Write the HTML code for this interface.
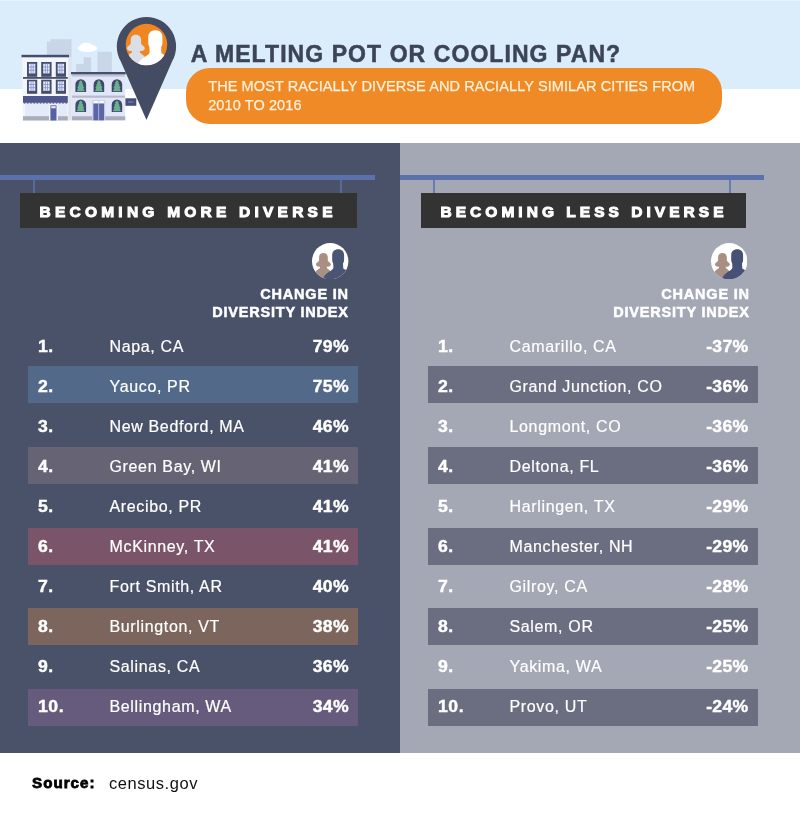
<!DOCTYPE html>
<html><head><meta charset="utf-8"><title>A Melting Pot or Cooling Pan?</title>
<style>
html,body{margin:0;padding:0;background:#fff;}
body{width:801px;height:814px;position:relative;overflow:hidden;font-family:"Liberation Sans",sans-serif;}
.abs{position:absolute;}
#sky{left:0;top:0;width:800px;height:89.4px;background:#dbedfb;border-top:1px solid #e6f4fd;box-sizing:border-box;}
#title{left:190.7px;top:37.3px;-webkit-text-stroke:0.5px #3d4459;font-size:23px;font-weight:bold;color:#3d4459;white-space:nowrap;line-height:34px;letter-spacing:1.07px;}
#pill{left:185.6px;top:68.4px;width:536.5px;height:55.6px;border-radius:24px;background:#f08a26;}
#sub{-webkit-text-stroke:0.25px #fdf1d9;left:208.2px;top:76.7px;font-size:14.5px;line-height:19.1px;letter-spacing:0.1px;color:#fdf1d9;white-space:nowrap;}
#lp{left:0;top:143px;width:400px;height:610px;background:#4a5269;}
#rp{left:400px;top:143px;width:400px;height:610px;background:#a4a8b5;}
.bar{height:5px;background:#5a71ab;top:174.5px;}
.hang{width:2.2px;opacity:0.8;top:179px;height:15px;background:#5a71ab;}
.label{top:193px;height:35px;background:#333;color:#fff;font-weight:bold;font-size:15.5px;line-height:37.6px;letter-spacing:4.23px;-webkit-text-stroke:1px #fff;white-space:nowrap;}
.ci{width:36px;height:36px;border-radius:50%;background:#fff;top:243px;overflow:hidden;}
.chg{font-weight:bold;color:#fff;font-size:14.5px;line-height:18px;text-align:right;top:284.8px;width:200px;letter-spacing:0.8px;margin-left:0.8px;-webkit-text-stroke:0.5px #fff;white-space:nowrap;}
.rbg{width:330px;height:37.2px;}
.row{width:330px;height:20px;color:#fff;font-size:16px;line-height:20px;white-space:nowrap;}
.row .n{position:absolute;left:9.5px;top:0;font-weight:bold;font-size:16px;letter-spacing:0.5px;-webkit-text-stroke:0.4px #fff;transform:scaleX(1.1);transform-origin:0 50%;}
.row .c{position:absolute;left:81.5px;top:0;letter-spacing:0.65px;-webkit-text-stroke:0.2px #fff;}
.row .p{position:absolute;right:9.5px;top:0;font-weight:bold;font-size:16px;letter-spacing:0.3px;margin-right:-0.5px;-webkit-text-stroke:0.4px #fff;transform:scaleX(1.1);transform-origin:100% 50%;}
.row.r .c{color:#fff;}
#src{left:32px;top:771.8px;font-size:15.2px;font-weight:bold;color:#000;line-height:22px;letter-spacing:1px;-webkit-text-stroke:0.8px #000;}
#srcv{left:109px;top:771.5px;font-size:16.5px;color:#111;line-height:22px;letter-spacing:0.55px;}
</style></head><body>
<div id="sky" class="abs"></div>
<svg class="abs" style="left:0;top:0" width="200" height="143" viewBox="0 0 200 143">
<!-- skyline -->
<g fill="#c9d6e8">
<rect x="46.8" y="41.5" width="5" height="16"/><rect x="50.5" y="39.2" width="21" height="18"/>
<rect x="76.2" y="64" width="15" height="9"/>
<rect x="83.7" y="57.2" width="7.5" height="8"/>
<rect x="97.5" y="51.8" width="14.4" height="21"/>
</g>
<!-- cloud -->
<g fill="#fff">
<ellipse cx="87.3" cy="48.3" rx="9.8" ry="3.8"/>
<ellipse cx="86.5" cy="46.5" rx="6.5" ry="3.8"/>
</g>
<!-- building 1 -->
<rect x="68.2" y="57" width="3.6" height="63.5" fill="#dfe3ee"/>
<rect x="22.4" y="57" width="45.8" height="63.5" fill="#f4f6fd"/>
<rect x="21.5" y="54.8" width="47.5" height="2.5" fill="#464e6e"/>
<g fill="#464e6e">
<rect x="27" y="62" width="10.2" height="14.8"/><rect x="41.2" y="62" width="10.4" height="14.8"/><rect x="55.8" y="62" width="10.2" height="14.8"/>
<rect x="27" y="79.7" width="10.2" height="14.1"/><rect x="41.2" y="79.7" width="10.4" height="14.1"/><rect x="55.8" y="79.7" width="10.2" height="14.1"/>
<rect x="23" y="77" width="44.8" height="1.8"/>
</g>
<g fill="#e6ecfd">
<rect x="28.9" y="63.8" width="6.4" height="9.6"/><rect x="43.2" y="63.8" width="6.4" height="9.6"/><rect x="57.7" y="63.8" width="6.4" height="9.6"/>
<rect x="28.9" y="81.4" width="6.4" height="9.4"/><rect x="43.2" y="81.4" width="6.4" height="9.4"/><rect x="57.7" y="81.4" width="6.4" height="9.4"/>
</g>
<g stroke="#7f8fca" stroke-width="0.8">
<path d="M31.05 63.8v9.6M31.05 81.4v9.4M33.15 63.8v9.6M33.15 81.4v9.4M45.35 63.8v9.6M45.35 81.4v9.4M47.45 63.8v9.6M47.45 81.4v9.4M59.85 63.8v9.6M59.85 81.4v9.4M61.95 63.8v9.6M61.95 81.4v9.4"/>
<path d="M28.9 67h6.4M28.9 70.2h6.4M43.2 67h6.4M43.2 70.2h6.4M57.7 67h6.4M57.7 70.2h6.4M28.9 84.5h6.4M28.9 87.7h6.4M43.2 84.5h6.4M43.2 87.7h6.4M57.7 84.5h6.4M57.7 87.7h6.4"/>
</g>
<rect x="25" y="103" width="42.3" height="13.3" fill="#e3ebf8"/>
<rect x="23" y="96" width="44.8" height="6.2" fill="#4e588c"/>
<path d="M23 102.2h44.8v0.6l-1.6 1-1.6-1-1.6 1-1.6-1-1.6 1-1.6-1-1.6 1-1.6-1-1.6 1-1.6-1-1.6 1-1.6-1-1.6 1-1.6-1-1.6 1-1.6-1-1.6 1-1.6-1-1.6 1-1.6-1-1.6 1-1.6-1-1.6 1-1.6-1-1.6 1-1.6-1-1.6 1-1.6-1z" fill="#414a78"/>
<rect x="23" y="116.2" width="44.8" height="4.3" fill="#a9acba"/>
<rect x="49" y="104.3" width="8.9" height="16.2" fill="#f4f6fd"/>
<rect x="50.4" y="105.3" width="6.1" height="15.2" fill="#5661a0"/>
<rect x="51.2" y="106.1" width="4.5" height="2.2" fill="#dfe5fa"/>
<!-- building 2 -->
<rect x="71.8" y="74" width="53.4" height="46.3" fill="#e3e5f8"/>
<rect x="71.8" y="74.2" width="53.4" height="2.4" fill="#bfc3d8"/>
<rect x="71" y="72" width="54.7" height="2.3" fill="#464e6e"/>
<rect x="72" y="95.6" width="53" height="2.1" fill="#b7b9c9"/>
<rect x="72" y="116.3" width="53.2" height="4" fill="#a9acba"/>
<g fill="#3d4a6e">
<path d="M75.4 92v-7.4a5.35 5.4 0 0 1 10.7 0v7.4z"/><path d="M93.6 92v-7.4a5.3 5.4 0 0 1 10.6 0v7.4z"/><path d="M111.7 92v-7.4a5.25 5.4 0 0 1 10.5 0v7.4z"/>
<path d="M75.4 112v-7.1a5.35 5.4 0 0 1 10.7 0v7.1z"/><path d="M111.7 112v-7.1a5.25 5.4 0 0 1 10.5 0v7.1z"/>
</g>
<g fill="#6bb08c">
<path d="M81.35 80.60 L82.75 82.93 L82.05 82.93 L83.65 85.37 L82.75 85.37 L84.35 88.02 L83.35 88.02 L84.65 91.20 L76.85 91.20 L78.15 88.02 L77.15 88.02 L78.75 85.37 L77.85 85.37 L79.45 82.93 L78.75 82.93 L80.15 80.60Z"/>
<path d="M99.50 80.60 L100.90 82.93 L100.20 82.93 L101.80 85.37 L100.90 85.37 L102.50 88.02 L101.50 88.02 L102.80 91.20 L95.00 91.20 L96.30 88.02 L95.30 88.02 L96.90 85.37 L96.00 85.37 L97.60 82.93 L96.90 82.93 L98.30 80.60Z"/>
<path d="M117.55 80.60 L118.95 82.93 L118.25 82.93 L119.85 85.37 L118.95 85.37 L120.55 88.02 L119.55 88.02 L120.85 91.20 L113.05 91.20 L114.35 88.02 L113.35 88.02 L114.95 85.37 L114.05 85.37 L115.65 82.93 L114.95 82.93 L116.35 80.60Z"/>
<path d="M81.35 100.80 L82.75 103.09 L82.05 103.09 L83.65 105.48 L82.75 105.48 L84.35 108.08 L83.35 108.08 L84.65 111.20 L76.85 111.20 L78.15 108.08 L77.15 108.08 L78.75 105.48 L77.85 105.48 L79.45 103.09 L78.75 103.09 L80.15 100.80Z"/>
<path d="M117.55 100.80 L118.95 103.09 L118.25 103.09 L119.85 105.48 L118.95 105.48 L120.55 108.08 L119.55 108.08 L120.85 111.20 L113.05 111.20 L114.35 108.08 L113.35 108.08 L114.95 105.48 L114.05 105.48 L115.65 103.09 L114.95 103.09 L116.35 100.80Z"/>
</g>
<rect x="92.2" y="100" width="13.1" height="20.3" fill="#cdd2ee"/>
<rect x="93.4" y="103.6" width="5" height="16.7" fill="#5a66a3"/><rect x="99.1" y="103.6" width="5" height="16.7" fill="#5a66a3"/>
<rect x="93.6" y="101" width="4.6" height="1.9" fill="#fff"/><rect x="99.3" y="101" width="4.6" height="1.9" fill="#fff"/>
<rect x="125.4" y="98.3" width="10.9" height="7.5" fill="#464e7a"/>
<rect x="128" y="101.5" width="5.6" height="1" fill="#7f8bbd"/>
<!-- pin -->
<path d="M146.45 120 L120.6 61.1 A29.65 29.65 0 1 1 172.3 61.1 Z" fill="#444c63"/>
<circle cx="146.5" cy="44.6" r="20.75" fill="#f08620"/>
<clipPath id="pc"><circle cx="146.5" cy="44.6" r="20.75"/></clipPath>
<g clip-path="url(#pc)"><g transform="translate(124.2 22.8) scale(1.19)">
<path transform="translate(-1.6 0)" fill="#d9dee7" d="M11.4 10C8.5 10 7.1 12 7.1 14.5L7.1 17C7.1 19 4 19.5 4 21.5C4 23 6 23.8 8 23.8L8 25C6 26.5 4.2 27.5 3.5 29L3.5 37L19 37L19 29C18.3 27.5 16.5 26.5 14.8 25L14.8 23.8C17 23.8 18.9 23 18.9 21.5C18.9 19.5 15.8 19 15.8 17L15.8 14.5C15.8 12 14.3 10 11.4 10Z"/>
<path fill="#fff" d="M26.2 6.2C22.5 6.2 20.2 8.5 20.2 12L20.2 17C20.2 18.5 20.8 19.5 21.2 20.5L21.4 24.5C21.4 26.5 18 28 15.5 30C13.5 31.5 12 33 11 36.4L40 36.4L40 30C38 28 33 27 31.3 25.5L31 20.5C31.6 19.5 32.1 18.5 32.1 17L32.1 12C32.1 8.5 30 6.2 26.2 6.2Z"/>
</g></g>

</svg>
<div id="title" class="abs">A MELTING POT OR COOLING PAN?</div>
<div id="pill" class="abs"></div>
<div id="sub" class="abs">THE MOST RACIALLY DIVERSE AND RACIALLY SIMILAR CITIES FROM<br>2010 TO 2016</div>

<div id="lp" class="abs"></div>
<div id="rp" class="abs"></div>

<div class="abs bar" style="left:0;width:375px"></div>
<div class="abs hang" style="left:33.2px"></div>
<div class="abs hang" style="left:339.6px"></div>
<div class="abs label" style="left:20px;width:317.5px;padding-left:19.5px">BECOMING MORE DIVERSE</div>

<div class="abs bar" style="left:400.3px;width:363.7px"></div>
<div class="abs hang" style="left:432.6px"></div>
<div class="abs hang" style="left:728.8px"></div>
<div class="abs label" style="left:421px;width:305.5px;padding-left:19.5px;letter-spacing:4.03px">BECOMING LESS DIVERSE</div>

<svg class="abs" style="left:312.4px;top:242.6px" width="36.4" height="36.4" viewBox="0 0 36.4 36.4"><clipPath id="ic1"><circle cx="18.2" cy="18.2" r="18.2"/></clipPath><circle cx="18.2" cy="18.2" r="18.2" fill="#fff"/><g clip-path="url(#ic1)"><path fill="#a88e83" d="M11.4 10C8.5 10 7.1 12 7.1 14.5L7.1 17C7.1 19 4 19.5 4 21.5C4 23 6 23.8 8 23.8L8 25C6 26.5 4.2 27.5 3.5 29L3.5 37L19 37L19 29C18.3 27.5 16.5 26.5 14.8 25L14.8 23.8C17 23.8 18.9 23 18.9 21.5C18.9 19.5 15.8 19 15.8 17L15.8 14.5C15.8 12 14.3 10 11.4 10Z"/><path fill="#4a5474" d="M26.2 6.2C22.5 6.2 20.2 8.5 20.2 12L20.2 17C20.2 18.5 20.8 19.5 21.2 20.5L21.4 24.5C21.4 26.5 18 28 15.5 30C13.5 31.5 12 33 11 36.4L40 36.4L40 30C38 28 33 27 31.3 25.5L31 20.5C31.6 19.5 32.1 18.5 32.1 17L32.1 12C32.1 8.5 30 6.2 26.2 6.2Z"/></g></svg>
<svg class="abs" style="left:711px;top:242.6px" width="36.4" height="36.4" viewBox="0 0 36.4 36.4"><clipPath id="ic2"><circle cx="18.2" cy="18.2" r="18.2"/></clipPath><circle cx="18.2" cy="18.2" r="18.2" fill="#fff"/><g clip-path="url(#ic2)"><path fill="#a88e83" d="M11.4 10C8.5 10 7.1 12 7.1 14.5L7.1 17C7.1 19 4 19.5 4 21.5C4 23 6 23.8 8 23.8L8 25C6 26.5 4.2 27.5 3.5 29L3.5 37L19 37L19 29C18.3 27.5 16.5 26.5 14.8 25L14.8 23.8C17 23.8 18.9 23 18.9 21.5C18.9 19.5 15.8 19 15.8 17L15.8 14.5C15.8 12 14.3 10 11.4 10Z"/><path fill="#465175" d="M26.2 6.2C22.5 6.2 20.2 8.5 20.2 12L20.2 17C20.2 18.5 20.8 19.5 21.2 20.5L21.4 24.5C21.4 26.5 18 28 15.5 30C13.5 31.5 12 33 11 36.4L40 36.4L40 30C38 28 33 27 31.3 25.5L31 20.5C31.6 19.5 32.1 18.5 32.1 17L32.1 12C32.1 8.5 30 6.2 26.2 6.2Z"/></g></svg>
<div class="abs chg" style="left:148px">CHANGE IN<br>DIVERSITY INDEX</div>
<div class="abs chg" style="left:549px">CHANGE IN<br>DIVERSITY INDEX</div>

<div class="abs rbg" style="top:366.0px;left:28px;background:#53698a"></div>
<div class="abs rbg" style="top:446.8px;left:28px;background:#666474"></div>
<div class="abs rbg" style="top:527.5px;left:28px;background:#7a5468"></div>
<div class="abs rbg" style="top:608.3px;left:28px;background:#7b655c"></div>
<div class="abs rbg" style="top:689.0px;left:28px;background:#665b7c"></div>
<div class="abs row l" style="top:336.9px;left:28px"><span class="n">1.</span><span class="c">Napa, CA</span><span class="p">79%</span></div>
<div class="abs row l" style="top:376.9px;left:28px"><span class="n">2.</span><span class="c">Yauco, PR</span><span class="p">75%</span></div>
<div class="abs row l" style="top:416.9px;left:28px"><span class="n">3.</span><span class="c">New Bedford, MA</span><span class="p">46%</span></div>
<div class="abs row l" style="top:456.9px;left:28px"><span class="n">4.</span><span class="c">Green Bay, WI</span><span class="p">41%</span></div>
<div class="abs row l" style="top:496.9px;left:28px"><span class="n">5.</span><span class="c">Arecibo, PR</span><span class="p">41%</span></div>
<div class="abs row l" style="top:536.9px;left:28px"><span class="n">6.</span><span class="c">McKinney, TX</span><span class="p">41%</span></div>
<div class="abs row l" style="top:576.9px;left:28px"><span class="n">7.</span><span class="c">Fort Smith, AR</span><span class="p">40%</span></div>
<div class="abs row l" style="top:616.9px;left:28px"><span class="n">8.</span><span class="c">Burlington, VT</span><span class="p">38%</span></div>
<div class="abs row l" style="top:656.9px;left:28px"><span class="n">9.</span><span class="c">Salinas, CA</span><span class="p">36%</span></div>
<div class="abs row l" style="top:696.9px;left:28px"><span class="n">10.</span><span class="c">Bellingham, WA</span><span class="p">34%</span></div>
<div class="abs rbg" style="top:366.0px;left:428px;background:#6a6e80"></div>
<div class="abs rbg" style="top:446.8px;left:428px;background:#6a6e80"></div>
<div class="abs rbg" style="top:527.5px;left:428px;background:#6a6e80"></div>
<div class="abs rbg" style="top:608.3px;left:428px;background:#6a6e80"></div>
<div class="abs rbg" style="top:689.0px;left:428px;background:#6a6e80"></div>
<div class="abs row r" style="top:336.9px;left:428px"><span class="n">1.</span><span class="c">Camarillo, CA</span><span class="p">-37%</span></div>
<div class="abs row r" style="top:376.9px;left:428px"><span class="n">2.</span><span class="c">Grand Junction, CO</span><span class="p">-36%</span></div>
<div class="abs row r" style="top:416.9px;left:428px"><span class="n">3.</span><span class="c">Longmont, CO</span><span class="p">-36%</span></div>
<div class="abs row r" style="top:456.9px;left:428px"><span class="n">4.</span><span class="c">Deltona, FL</span><span class="p">-36%</span></div>
<div class="abs row r" style="top:496.9px;left:428px"><span class="n">5.</span><span class="c">Harlingen, TX</span><span class="p">-29%</span></div>
<div class="abs row r" style="top:536.9px;left:428px"><span class="n">6.</span><span class="c">Manchester, NH</span><span class="p">-29%</span></div>
<div class="abs row r" style="top:576.9px;left:428px"><span class="n">7.</span><span class="c">Gilroy, CA</span><span class="p">-28%</span></div>
<div class="abs row r" style="top:616.9px;left:428px"><span class="n">8.</span><span class="c">Salem, OR</span><span class="p">-25%</span></div>
<div class="abs row r" style="top:656.9px;left:428px"><span class="n">9.</span><span class="c">Yakima, WA</span><span class="p">-25%</span></div>
<div class="abs row r" style="top:696.9px;left:428px"><span class="n">10.</span><span class="c">Provo, UT</span><span class="p">-24%</span></div>

<div id="src" class="abs">Source:</div>
<div id="srcv" class="abs">census.gov</div>
</body></html>
